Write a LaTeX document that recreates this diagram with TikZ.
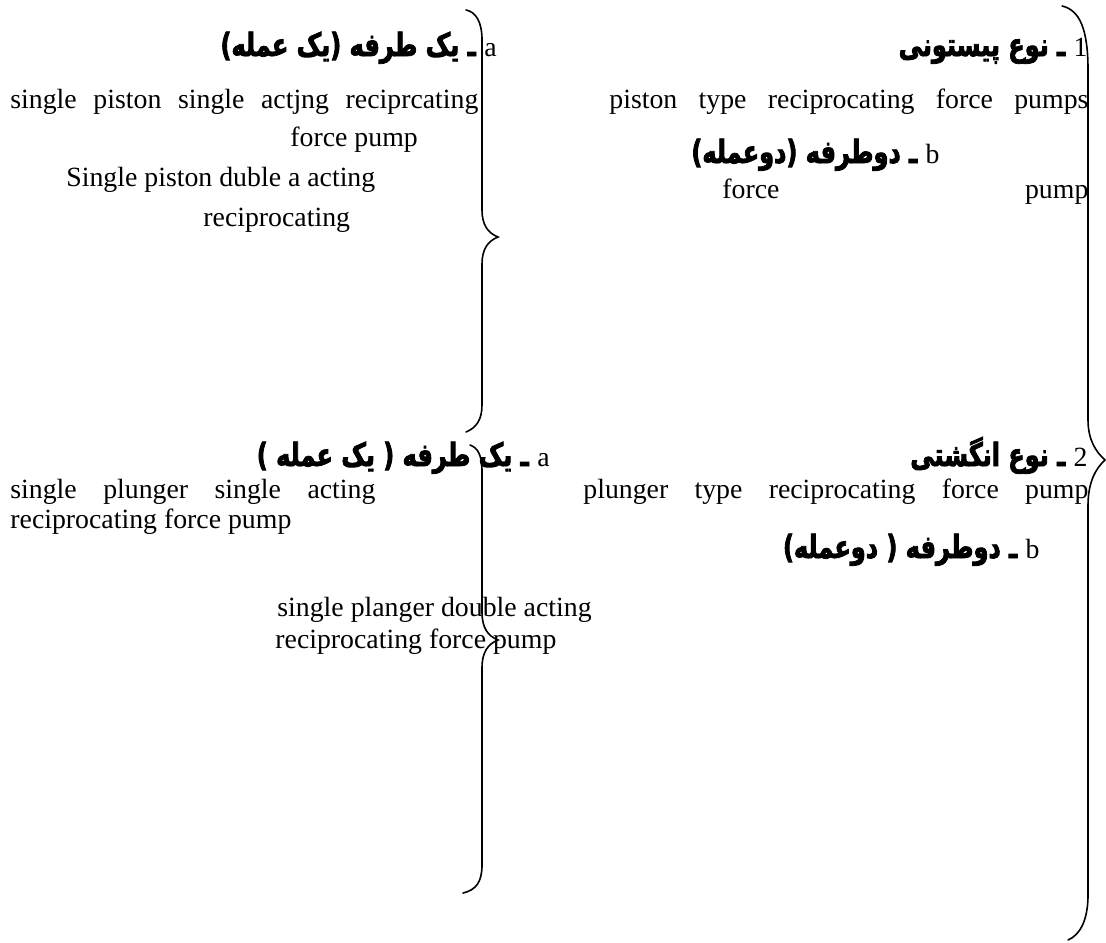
\documentclass[tikz,border=0pt]{standalone}
\usepackage{fontspec}
\setmainfont{Liberation Serif}
\newfontfamily\fa[Script=Arabic,FakeStretch=0.75,FakeBold=2.5]{DejaVu Sans Bold}
\TeXXeTstate=1
\newcommand{\latin}[1]{{\rmfamily\fontsize{13.9}{16}\selectfont #1}}
\tikzset{
  en/.style={inner sep=0pt,font=\fontsize{13.9}{16}\selectfont},
  fat/.style={inner sep=0pt,font=\fontsize{16}{18}\selectfont},
  bracepath/.style={line width=0.8pt,line cap=round}
}
\begin{document}
\begin{tikzpicture}[x=0.5pt,y=-0.5pt]
\useasboundingbox (0,0) rectangle (1106,942);
% upper block
\node[fat,anchor=base east] (t1) at (1088,56) {\fa\beginR\latin{1} ـ نوع پیستونی\endR};
\node[fat,anchor=base east] (ta) at (497,56) {\fa\beginR\latin{a} ـ یک طرفه (یک عمله)\endR};
\node[en,anchor=base west] (p1) at (609,108) {\makebox[239.5pt][s]{piston type reciprocating force pumps}};
\node[en,anchor=base west] (s1) at (10,108) {\makebox[234pt][s]{single piston single actjng reciprcating}};
\node[en,anchor=base west] (s2) at (290,146) {force pump};
\node[fat,anchor=base east] (tb) at (940,163) {\fa\beginR\latin{b} ـ دوطرفه (دوعمله)\endR};
\node[en,anchor=base west] (d1) at (66,186) {Single piston duble a acting};
\node[en,anchor=base west] (fp) at (722,198) {\makebox[183pt][s]{force pump}};
\node[en,anchor=base west] (d2) at (203,226) {reciprocating};
% lower block
\node[fat,anchor=base east] (t2) at (1088,466) {\fa\beginR\latin{2} ـ نوع انگشتی\endR};
\node[fat,anchor=base east] (ta2) at (550,466) {\fa\beginR\latin{a} ـ یک طرفه ( یک عمله )\endR};
\node[en,anchor=base west] (p2) at (583,498) {\makebox[252.5pt][s]{plunger type reciprocating force pump}};
\node[en,anchor=base west] (u1) at (10,498) {\makebox[182.5pt][s]{single plunger single acting}};
\node[en,anchor=base west] (u2) at (10,528) {reciprocating force pump};
\node[fat,anchor=base east] (tb2) at (1040,558) {\fa\beginR\latin{b} ـ دوطرفه ( دوعمله)\endR};
\node[en,anchor=base west] (v1) at (277,616) {single planger double acting};
\node[en,anchor=base west] (v2) at (275,648) {reciprocating force pump};
% braces
\draw[bracepath] (1062,6) .. controls (1080,10) and (1088,30) .. (1088,70) -- (1088,420)
  .. controls (1088,440) and (1096,452) .. (1105,460)
  .. controls (1096,468) and (1088,482) .. (1088,505) -- (1088,895)
  .. controls (1088,920) and (1080,935) .. (1068,940);
\draw[bracepath] (466,10) .. controls (476,12) and (482,22) .. (482,40) -- (482,210)
  .. controls (482,225) and (488,233) .. (498,237)
  .. controls (488,241) and (482,249) .. (482,264) -- (482,405)
  .. controls (482,420) and (476,428) .. (466,432);
\draw[bracepath] (470,445) .. controls (478,448) and (482,455) .. (482,472) -- (482,612)
  .. controls (482,628) and (488,636) .. (498,640)
  .. controls (488,644) and (482,652) .. (482,668) -- (482,865)
  .. controls (482,882) and (476,890) .. (463,893);
\end{tikzpicture}
\end{document}
